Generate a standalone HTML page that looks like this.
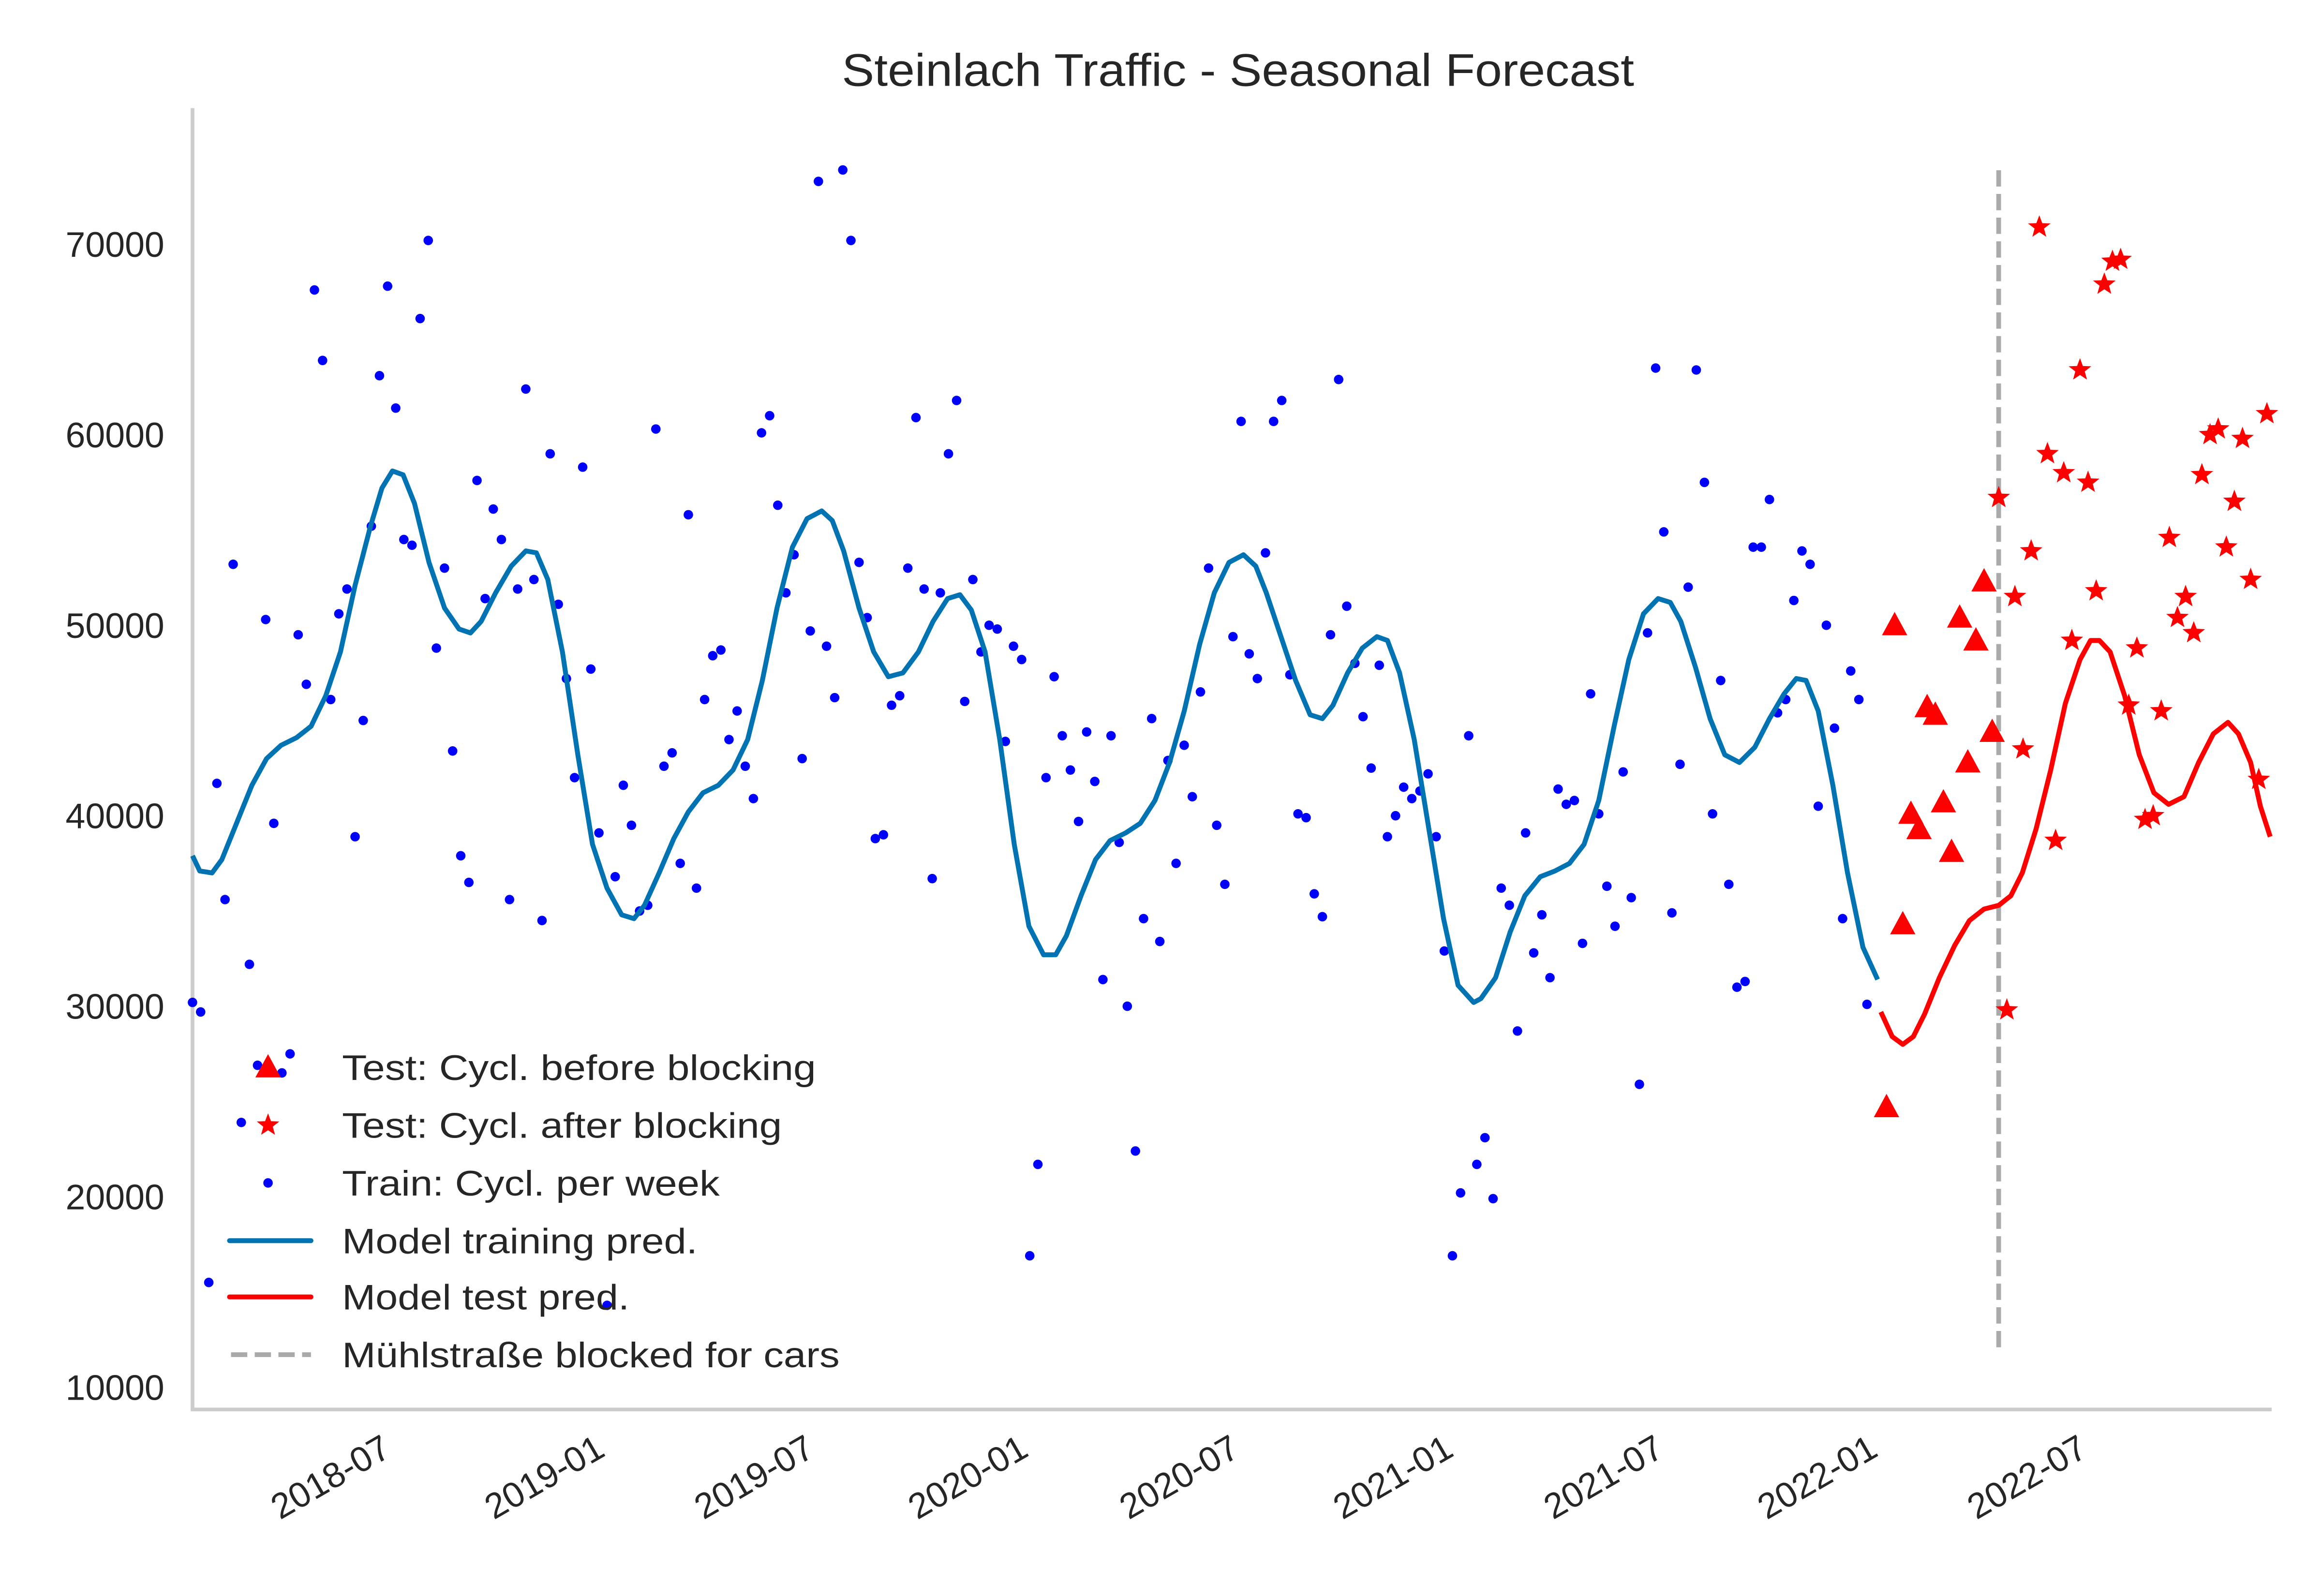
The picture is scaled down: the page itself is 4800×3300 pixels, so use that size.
<!DOCTYPE html>
<html><head><meta charset="utf-8"><style>html,body{margin:0;padding:0;background:#fff}svg{display:block}text{font-family:"Liberation Sans",Arial,sans-serif;fill:#262626}</style></head>
<body>
<svg id="chart" width="4800" height="3300" viewBox="0 0 1568 1078" xmlns="http://www.w3.org/2000/svg">
<rect x="0" y="0" width="1568" height="1078" fill="#fff"/>
<text x="836" y="58" font-size="31" text-anchor="middle" textLength="535" lengthAdjust="spacingAndGlyphs">Steinlach Traffic - Seasonal Forecast</text>
<g id="axes"></g><g id="marks"></g><g id="legend"></g>
</svg>
<script>
// ---- data (weeks since plot start, values in cyclists/week) ----
const trainValues=[30200,29700,15500,41700,35600,53200,23900,32200,26900,50300,39600,26500,27500,49500,46900,67600,63900,46100,50600,51900,38900,45000,55200,63100,67800,61400,54500,54200,66100,70200,48800,53000,43400,37900,36500,57600,51400,56100,54500,35600,51900,62400,52400,34500,59000,51100,47200,42000,58300,47700,39100,14300,36800,41600,39500,35000,35300,60300,42600,43300,37500,55800,36200,46100,48400,48700,44000,45500,42600,40900,60100,61000,56300,51700,53700,43000,49700,73300,48900,46200,73900,70200,53300,50400,38800,39000,45800,46300,53000,60900,51900,36700,51700,59000,61800,46000,52400,48600,50000,49800,43900,48900,48200,16900,21700,42000,47300,44200,42400,39700,44400,41800,31400,44200,38600,30000,22400,34600,45100,33400,42900,37500,43700,41000,46500,53000,39500,36400,49400,60700,48500,47200,53800,60700,61800,47400,40100,39900,35900,34700,49500,62900,51000,48000,45200,42500,47900,38900,40000,41500,40900,41300,42200,38900,32900,16900,20200,44200,21700,23100,19900,36200,35300,28700,39100,32800,34800,31500,41400,40600,40800,33300,46400,40100,36300,34200,42300,35700,25900,49600,63500,54900,34900,42700,52000,63400,57500,40100,47100,36400,31000,31300,54100,54100,56600,45400,46100,51300,53900,53200,40500,50000,44600,34600,47600,46100,30100];
const testBeforeStart=208.4;
const testBeforeValues=[24700,50000,34300,40100,39300,45700,45300,40700,38100,50400,42800,49200,52300,44400];
const testAfterStart=222.2;
const testAfterValues=[56700,29800,51500,43500,53900,70900,59000,38700,58000,49200,63400,57500,51800,67900,69100,69200,45800,48800,39800,40000,45500,54600,50400,51500,49600,57900,60000,60300,54100,56500,59800,52400,41900,61100];
const trainPredWeeks=[0,0.9,2.4,3.6,5.5,7.3,9.1,10.9,12.8,14.6,16.4,18.2,20,21.9,23.3,24.6,25.9,27.3,29.1,31,32.8,34.2,35.5,37.3,39.2,41,42.3,43.7,45.5,47.4,49.2,51,52.8,54.3,55.6,57.4,59.2,61,62.8,64.7,66.5,68.3,70.1,71.9,73.8,75.6,77.4,78.7,80.1,82,83.8,85.6,87.4,89.3,91.1,92.9,94.4,95.8,97.5,99.3,101.1,102.9,104.7,106.2,107.5,109.3,111.1,112.9,114.8,116.6,118.4,120.2,122,123.9,125.7,127.5,129.3,130.8,132.1,133.9,135.7,137.5,139,140.3,142.1,143.9,145.7,147,148.5,150.3,152.1,153.9,155.7,157.6,158.5,160.3,162.1,163.9,165.8,167.6,169.4,171.2,173,174.9,176.7,178.5,180.3,181.8,183.1,184.9,186.7,188.5,190.3,192.2,194,195.8,197.3,198.5,200,201.8,203.6,205.5,207.3];
const trainPredValues=[37.9,37.1,37,37.7,39.7,41.6,43,43.7,44.1,44.7,46.3,48.6,52.1,55.2,57.2,58.1,57.9,56.4,53.3,50.9,49.8,49.6,50.2,51.7,53.1,53.9,53.8,52.4,48.6,43.2,38.5,36.2,34.8,34.6,35.3,37,38.8,40.2,41.2,41.6,42.4,44,47.1,50.9,54.1,55.6,56,55.5,53.9,50.9,48.6,47.3,47.5,48.6,50.2,51.4,51.6,50.8,48.6,44,38.5,34.2,32.7,32.7,33.7,35.8,37.7,38.7,39.1,39.6,40.8,42.8,45.5,49,51.7,53.3,53.7,53.1,51.7,49.4,47.1,45.3,45.1,45.8,47.5,48.8,49.4,49.2,47.5,44,39.3,34.6,31.1,30.2,30.4,31.5,33.9,35.8,36.8,37.1,37.5,38.5,40.8,44.7,48.2,50.6,51.4,51.2,50.2,47.8,45.1,43.2,42.8,43.6,45.1,46.4,47.2,47.1,45.5,41.6,37,33.1,31.4];
const testPredWeeks=[207.7,209.1,210.4,211.7,213.1,214.9,216.8,218.6,220.4,222.2,223.7,225.1,226.8,228.6,230.4,232.2,233.5,234.6,235.9,237.7,239.5,241.3,243.1,245,246.8,248.6,250.4,251.7,253.2,254.4,255.6];
const testPredValues=[29.7,28.4,28,28.4,29.6,31.5,33.2,34.5,35.1,35.3,35.8,37,39.3,42.4,45.9,48.2,49.2,49.2,48.6,46.3,43.2,41.2,40.6,41,42.8,44.3,44.9,44.3,42.8,40.5,38.9];
const blockWeek=222.2;
const yTicks=[10000,20000,30000,40000,50000,60000,70000];
const xTickWeeks=[23.3,49.6,75.4,101.7,127.7,154.0,179.9,206.2,232.0];
const xTickLabels=["2018-07","2019-01","2019-07","2020-01","2020-07","2021-01","2021-07","2022-01","2022-07"];

// ---- scales ----
const X0=130,X1=1533,W0=0,W1=255.6;
const xs=w=>X0+(w-W0)/(W1-W0)*(X1-X0);
const ys=v=>937-(v-10000)/10000*128.67;
const NS="http://www.w3.org/2000/svg";
function mk(tag,parent,attrs){const e=document.createElementNS(NS,tag);for(const k in attrs)e.setAttribute(k,attrs[k]);parent.appendChild(e);return e;}
const axes=document.getElementById('axes'),marks=document.getElementById('marks'),legend=document.getElementById('legend');

let sp=mk('line',axes,{x1:130,y1:73,x2:130,y2:953,stroke:'#cccccc','stroke-width':2.5});


sp=mk('line',axes,{x1:129,y1:952,x2:1534,y2:952,stroke:'#cccccc','stroke-width':2.5});



yTicks.forEach(v=>{
  const t=mk('text',axes,{x:111,y:ys(v)+8.5,'font-size':24,'text-anchor':'end'});
  t.textContent=String(v);
  
  
});
xTickWeeks.forEach((w,i)=>{
  const x=xs(w)-1,y=968;
  const t=mk('text',axes,{x:x,y:y+17,'font-size':24,'text-anchor':'end',transform:`rotate(-30 ${x} ${y})`});
  t.textContent=xTickLabels[i];
  
  
});

const bl=mk('line',marks,{x1:xs(blockWeek),y1:115,x2:xs(blockWeek),y2:913,stroke:'#aaaaaa','stroke-width':3.2,'stroke-dasharray':'11,5'});



trainValues.forEach((v,i)=>{
  const c=mk('circle',marks,{cx:xs(i),cy:ys(v),r:3.2,fill:'#0000ff'});
  
  
});

function pathFrom(ws,vs){return ws.map((w,i)=>(i?'L':'M')+xs(w).toFixed(1)+','+ys(vs[i]*1000).toFixed(1)).join(' ');}
const tp=mk('path',marks,{d:pathFrom(trainPredWeeks,trainPredValues),fill:'none',stroke:'#0173b2','stroke-width':3.3,'stroke-linejoin':'round'});


const tq=mk('path',marks,{d:pathFrom(testPredWeeks,testPredValues),fill:'none',stroke:'#ff0000','stroke-width':3.3,'stroke-linejoin':'round'});



function tri(cx,cy,s){return `${cx},${cy-s} ${cx+s*0.95},${cy+s*0.75} ${cx-s*0.95},${cy+s*0.75}`;}
function star(cx,cy,R){let p=[];for(let k=0;k<10;k++){const r=k%2?R*0.42:R;const a=-Math.PI/2+k*Math.PI/5;p.push((cx+r*Math.cos(a)).toFixed(1)+','+(cy+r*Math.sin(a)).toFixed(1));}return p.join(' ');}
testBeforeValues.forEach((v,i)=>{
  const p=mk('polygon',marks,{points:tri(xs(testBeforeStart+i),ys(v),9),fill:'#ff0000'});
  
  
});
testAfterValues.forEach((v,i)=>{
  const p=mk('polygon',marks,{points:star(xs(testAfterStart+i),ys(v),8),fill:'#ff0000'});
  
  
});

const rows=[721,760,799,838,876,915];
const labels=["Test: Cycl. before blocking","Test: Cycl. after blocking","Train: Cycl. per week","Model training pred.","Model test pred.","Mühlstraße blocked for cars"];
const widths=[320,297,255,240,194,336];
let m=mk('polygon',legend,{points:tri(181,721,9),fill:'#ff0000'});


m=mk('polygon',legend,{points:star(181,760,8),fill:'#ff0000'});


m=mk('circle',legend,{cx:181,cy:799,r:3.2,fill:'#0000ff'});


m=mk('line',legend,{x1:155,y1:838,x2:210,y2:838,stroke:'#0173b2','stroke-width':3.3,'stroke-linecap':'round'});


m=mk('line',legend,{x1:155,y1:876,x2:210,y2:876,stroke:'#ff0000','stroke-width':3.3,'stroke-linecap':'round'});


m=mk('line',legend,{x1:156,y1:915,x2:210,y2:915,stroke:'#aaaaaa','stroke-width':3.2,'stroke-dasharray':'11,5'});


labels.forEach((s,i)=>{
  const t=mk('text',legend,{x:231,y:rows[i]+8.5,'font-size':24,textLength:widths[i],lengthAdjust:'spacingAndGlyphs'});
  t.textContent=s;
  
  
});
</script>
</body></html>
